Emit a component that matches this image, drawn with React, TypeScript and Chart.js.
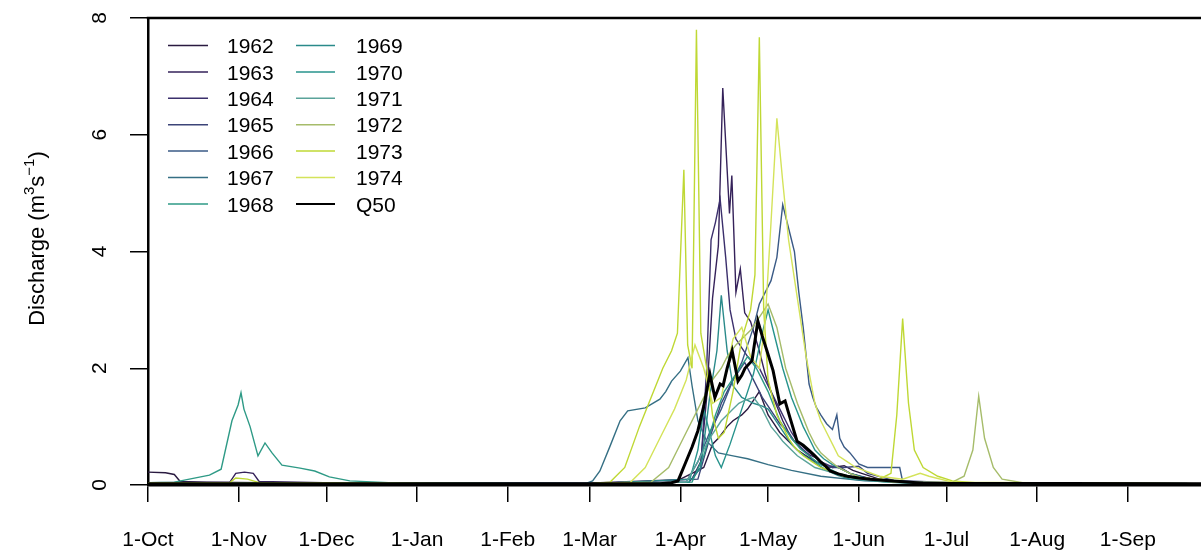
import { useEffect, useRef } from "react";
import { Chart, registerables } from "chart.js";

Chart.register(...registerables);

const FONT = "'Liberation Sans', Arial, Helvetica, sans-serif";

// x: days since 1 October
const MONTH_TICK_DAYS = [0, 31, 61, 92, 123, 151, 182, 212, 243, 273, 304, 335];
const MONTH_TICK_LABELS = ["1-Oct", "1-Nov", "1-Dec", "1-Jan", "1-Feb", "1-Mar", "1-Apr", "1-May", "1-Jun", "1-Jul", "1-Aug", "1-Sep"];
const Y_TICKS = [0, 2, 4, 6, 8];
const X_MAX_VISIBLE = 360;

const YEARS = ["1962", "1963", "1964", "1965", "1966", "1967", "1968", "1969", "1970", "1971", "1972", "1973", "1974"];
const YEAR_COLORS = ["#2a1a40", "#35225a", "#3b2f6c", "#3c4478", "#3a5a86", "#356f84", "#2e9a86", "#2a8a8a", "#27938c", "#5aa39a", "#a6bc6a", "#bfd834", "#d4e35a"];
const Q50_LABEL = "Q50";

// [day, discharge m3/s]
const S1962: [number, number][] = [[0, 0.22], [6, 0.21], [9, 0.18], [11, 0.06], [20, 0.05], [40, 0.04], [80, 0.03], [150, 0.02], [180, 0.05], [190, 0.3], [193, 0.7], [195, 0.8], [198, 1.0], [200, 1.1], [203, 1.2], [205, 1.3], [207, 1.45], [209, 1.6], [210.5, 1.4], [212, 1.2], [214, 1.05], [216, 0.9], [219, 0.75], [222, 0.6], [225, 0.5], [228, 0.4], [231, 0.35], [234, 0.3], [238, 0.33], [241, 0.25], [244, 0.2], [250, 0.1], [260, 0.05], [300, 0.02], [365, 0.02]];
const S1963: [number, number][] = [[0, 0.04], [28, 0.05], [30, 0.2], [33, 0.22], [36, 0.2], [38, 0.06], [60, 0.04], [150, 0.03], [186, 0.1], [189, 0.4], [191, 1.5], [193, 3.2], [195, 4.1], [196.5, 6.8], [198.8, 4.65], [199.6, 5.3], [201, 3.3], [202.5, 3.7], [204, 2.95], [206, 2.8], [209, 2.3], [211, 1.9], [213, 1.6], [215, 1.35], [217, 1.1], [220, 0.8], [222, 0.7], [224, 0.6], [226, 0.52], [229, 0.45], [232, 0.3], [236, 0.32], [240, 0.2], [246, 0.12], [255, 0.05], [300, 0.02], [365, 0.02]];
const S1964: [number, number][] = [[0, 0.03], [150, 0.02], [185, 0.05], [189, 0.3], [191, 2.0], [192.5, 4.2], [194, 4.5], [195.6, 4.9], [197.5, 3.9], [199, 3.0], [201, 2.5], [203, 2.35], [205, 2.2], [207, 2.1], [209, 2.0], [211, 1.8], [213, 1.6], [216, 1.3], [218, 1.1], [220, 0.9], [222, 0.75], [225, 0.6], [228, 0.48], [230, 0.4], [233, 0.33], [236, 0.3], [240, 0.2], [243, 0.15], [250, 0.08], [270, 0.03], [365, 0.02]];
const S1965: [number, number][] = [[0, 0.03], [150, 0.02], [188, 0.1], [192, 0.8], [194, 1.1], [196, 1.4], [198, 1.6], [200, 1.8], [202, 1.95], [204, 2.1], [207, 1.8], [210, 1.5], [212, 1.35], [214, 1.2], [216, 1.05], [219, 0.9], [221, 0.75], [224, 0.6], [227, 0.45], [230, 0.35], [234, 0.3], [238, 0.3], [243, 0.32], [246, 0.2], [255, 0.08], [280, 0.03], [365, 0.02]];
const S1966: [number, number][] = [[0, 0.03], [150, 0.02], [184, 0.05], [188, 0.4], [192, 0.9], [196, 1.3], [200, 1.8], [203, 2.1], [205, 2.4], [207, 2.7], [209, 3.1], [211, 3.3], [213, 3.5], [215, 3.9], [217, 4.8], [219.5, 4.3], [221, 4.0], [222.5, 3.3], [224, 2.7], [226, 1.73], [227.3, 1.5], [228.5, 1.33], [230, 1.2], [232, 1.05], [234, 0.95], [235.5, 1.2], [236.5, 0.8], [238, 0.65], [240, 0.55], [243, 0.36], [246, 0.3], [257, 0.3], [258, 0.06], [270, 0.03], [365, 0.02]];
const S1967: [number, number][] = [[0, 0.04], [150, 0.03], [152, 0.07], [154.5, 0.24], [158, 0.67], [161.4, 1.1], [164, 1.27], [170, 1.32], [172, 1.38], [175, 1.47], [177, 1.6], [179, 1.78], [182, 1.95], [184.6, 2.18], [186, 1.7], [188, 1.1], [191, 0.75], [195, 0.55], [200, 0.5], [205, 0.45], [212, 0.35], [220, 0.25], [230, 0.15], [245, 0.07], [270, 0.03], [365, 0.02]];
const S1968: [number, number][] = [[0, 0.04], [9, 0.05], [21, 0.17], [25, 0.27], [28.7, 1.1], [30.8, 1.37], [31.8, 1.58], [32.8, 1.3], [34.9, 1.0], [37.6, 0.5], [40, 0.72], [42.4, 0.55], [45.8, 0.34], [52, 0.29], [57, 0.24], [62, 0.14], [69, 0.07], [86, 0.03], [150, 0.02], [186, 0.05], [190, 0.5], [194, 1.2], [197, 1.6], [199, 1.75], [201, 1.9], [203, 2.05], [205, 2.2], [208, 2.0], [210, 1.8], [212, 1.6], [214, 1.35], [216, 1.1], [218, 0.95], [220, 0.8], [223, 0.62], [226, 0.5], [229, 0.38], [232, 0.3], [236, 0.2], [240, 0.15], [250, 0.06], [270, 0.03], [365, 0.02]];
const S1969: [number, number][] = [[0, 0.03], [150, 0.02], [186, 0.1], [189, 0.3], [192, 1.5], [194.5, 2.3], [196, 3.25], [198, 2.3], [200, 1.7], [203, 1.5], [205, 1.45], [207, 1.4], [210, 1.35], [212, 1.3], [214, 1.15], [216, 1.0], [218, 0.85], [220, 0.7], [223, 0.55], [226, 0.45], [229, 0.35], [232, 0.25], [236, 0.16], [240, 0.1], [260, 0.03], [365, 0.02]];
const S1970: [number, number][] = [[0, 0.03], [150, 0.02], [185, 0.05], [188, 0.6], [190, 1.3], [192, 0.9], [194, 0.5], [196, 0.3], [199, 0.7], [201, 1.0], [203, 1.3], [205, 1.6], [207, 1.9], [210, 2.6], [212, 3.0], [214, 2.6], [217, 2.0], [220, 1.5], [222, 1.25], [224, 1.0], [226, 0.8], [228, 0.6], [231, 0.45], [234, 0.35], [240, 0.2], [248, 0.08], [265, 0.03], [365, 0.02]];
const S1971: [number, number][] = [[0, 0.03], [150, 0.02], [184, 0.05], [188, 0.4], [192, 0.8], [196, 1.1], [200, 1.3], [202, 1.4], [204, 1.45], [207, 1.5], [210, 1.3], [213, 1.0], [215, 0.88], [217, 0.75], [220, 0.6], [222, 0.5], [225, 0.4], [228, 0.3], [235, 0.2], [242, 0.1], [255, 0.04], [365, 0.02]];
const S1972: [number, number][] = [[0, 0.03], [150, 0.02], [172, 0.05], [178, 0.3], [183, 0.8], [188, 1.3], [193, 1.8], [196, 2.0], [198, 2.2], [201, 2.4], [203, 2.5], [206, 2.65], [208, 2.8], [210, 2.95], [212, 3.1], [215, 2.7], [218, 2.0], [220, 1.7], [222, 1.4], [224, 1.15], [226, 0.9], [228, 0.7], [230, 0.55], [233, 0.42], [236, 0.3], [240, 0.2], [244, 0.12], [255, 0.05], [275, 0.05], [279, 0.15], [282, 0.6], [284, 1.52], [286, 0.8], [289, 0.3], [292, 0.1], [300, 0.03], [365, 0.02]];
const S1973: [number, number][] = [[0, 0.03], [28, 0.04], [30, 0.12], [34, 0.1], [38, 0.04], [150, 0.02], [158, 0.05], [163, 0.3], [168, 1.0], [172, 1.5], [176, 2.0], [179, 2.3], [181, 2.6], [183.2, 5.4], [184.5, 2.4], [186, 2.0], [187.5, 7.8], [189, 2.6], [191, 2.0], [193, 1.2], [195, 0.8], [197, 0.9], [200, 1.6], [203, 2.5], [206, 3.0], [207.5, 3.6], [209, 7.67], [210.5, 3.0], [212, 1.8], [215, 1.2], [217, 1.0], [219, 0.8], [221, 0.65], [224, 0.5], [227, 0.4], [230, 0.3], [238, 0.15], [250, 0.1], [254, 0.2], [256, 1.2], [258, 2.85], [260, 1.4], [262, 0.6], [265, 0.3], [270, 0.15], [275, 0.07], [285, 0.03], [365, 0.02]];
const S1974: [number, number][] = [[0, 0.03], [150, 0.02], [165, 0.05], [170, 0.3], [175, 0.8], [180, 1.3], [184, 1.8], [187, 2.4], [190, 2.0], [193, 1.4], [196, 1.5], [198, 2.0], [200, 2.5], [203, 2.7], [206, 2.2], [209, 2.0], [211, 2.8], [213, 4.5], [215, 6.28], [217, 5.2], [219, 4.2], [222, 3.2], [225, 2.2], [228, 1.4], [230, 1.1], [232, 0.9], [234, 0.7], [236, 0.5], [239, 0.4], [242, 0.3], [250, 0.15], [258, 0.1], [264, 0.2], [267, 0.15], [275, 0.05], [365, 0.02]];
const SQ50: [number, number][] = [[0, 0.02], [175, 0.02], [179, 0.04], [181.2, 0.07], [183.6, 0.36], [186, 0.65], [188, 0.93], [190, 1.35], [192.1, 1.9], [193.8, 1.5], [195.6, 1.73], [196.6, 1.7], [198, 2.0], [199.7, 2.3], [201.7, 1.78], [203, 1.88], [204.1, 2.0], [206.5, 2.13], [208.5, 2.81], [210, 2.55], [211.6, 2.3], [213.7, 1.96], [216, 1.39], [217.8, 1.44], [219.5, 1.15], [221.9, 0.75], [224, 0.68], [226.3, 0.58], [228, 0.5], [229.7, 0.41], [231.5, 0.33], [233.2, 0.24], [236, 0.19], [239, 0.15], [243, 0.12], [246.8, 0.1], [254.7, 0.07], [265, 0.03], [365, 0.02]];

const YEAR_SERIES = [S1962, S1963, S1964, S1965, S1966, S1967, S1968, S1969, S1970, S1971, S1972, S1973, S1974];

const decorPlugin = {
  id: "decor",
  afterDraw(chart: any) {
    const { ctx, chartArea } = chart;
    const ys = chart.scales.y;
    ctx.save();
    // top border of the box
    ctx.strokeStyle = "#000";
    ctx.lineWidth = 2.5;
    ctx.beginPath();
    ctx.moveTo(chartArea.left - 1.25, chartArea.top);
    ctx.lineTo(chartArea.right, chartArea.top);
    ctx.stroke();

    // y tick labels, rotated
    ctx.fillStyle = "#000";
    ctx.font = `21px ${FONT}`;
    ctx.textAlign = "center";
    ctx.textBaseline = "middle";
    for (const v of Y_TICKS) {
      const py = ys.getPixelForValue(v);
      ctx.save();
      ctx.translate(chartArea.left - 48, py);
      ctx.rotate(-Math.PI / 2);
      ctx.fillText(String(v), 0, 0);
      ctx.restore();
    }

    // y title with superscripts
    const parts: [string, boolean][] = [["Discharge (m", false], ["3", true], ["s", false], ["\u22121", true], [")", false]];
    const mainFont = `22px ${FONT}`;
    const supFont = `15px ${FONT}`;
    let total = 0;
    for (const [t, sup] of parts) {
      ctx.font = sup ? supFont : mainFont;
      total += ctx.measureText(t).width;
    }
    const cy = (chartArea.top + chartArea.bottom) / 2 - 13;
    ctx.save();
    ctx.translate(chartArea.left - 104, cy);
    ctx.rotate(-Math.PI / 2);
    ctx.textAlign = "left";
    ctx.textBaseline = "alphabetic";
    let u = -total / 2;
    for (const [t, sup] of parts) {
      ctx.font = sup ? supFont : mainFont;
      ctx.fillText(t, u, sup ? -10 : 0);
      u += ctx.measureText(t).width;
    }
    ctx.restore();

    // legend (two columns, seven rows)
    const labels = [...YEARS, Q50_LABEL];
    const colors = [...YEAR_COLORS, "#000"];
    const cols = [
      { l0: chartArea.left + 20, l1: chartArea.left + 60, tx: chartArea.left + 79 },
      { l0: chartArea.left + 148, l1: chartArea.left + 187, tx: chartArea.left + 208 },
    ];
    ctx.font = `21px ${FONT}`;
    ctx.textAlign = "left";
    ctx.textBaseline = "middle";
    labels.forEach((lab, i) => {
      const c = cols[Math.floor(i / 7)];
      const y = chartArea.top + 28.5 + (i % 7) * 26.4;
      ctx.strokeStyle = colors[i];
      ctx.lineWidth = lab === Q50_LABEL ? 2 : 1.5;
      ctx.beginPath();
      ctx.moveTo(c.l0, y - 1);
      ctx.lineTo(c.l1, y - 1);
      ctx.stroke();
      ctx.fillStyle = "#000";
      ctx.fillText(lab, c.tx, y + 1);
    });
    ctx.restore();
  },
};

export default function App() {
  const ref = useRef<HTMLCanvasElement | null>(null);
  useEffect(() => {
    if (!ref.current) return;
    const datasets: any[] = YEAR_SERIES.map((s, i) => ({
      label: YEARS[i],
      data: s.map(([x, y]) => ({ x, y })),
      borderColor: YEAR_COLORS[i],
      borderWidth: 1.4,
      pointRadius: 0,
      tension: 0,
      fill: false,
      order: YEARS.length - i,
    }));
    datasets.push({
      label: Q50_LABEL,
      data: SQ50.map(([x, y]) => ({ x, y })),
      borderColor: "#000",
      borderWidth: 3,
      pointRadius: 0,
      tension: 0,
      fill: false,
      order: 0,
    });
    const chart = new Chart(ref.current, {
      type: "line",
      data: { datasets },
      options: {
        responsive: false,
        animation: false,
        devicePixelRatio: 1,
        layout: { padding: { top: 18, right: 0, left: 0, bottom: 0 } },
        plugins: { legend: { display: false }, tooltip: { enabled: false } },
        scales: {
          x: {
            type: "linear",
            min: 0,
            max: X_MAX_VISIBLE,
            afterBuildTicks: (s: any) => {
              s.ticks = MONTH_TICK_DAYS.map((v) => ({ value: v }));
            },
            afterFit: (s: any) => {
              s.height = 65;
            },
            ticks: {
              autoSkip: false,
              maxRotation: 0,
              minRotation: 0,
              padding: 26,
              color: "#000",
              font: { family: FONT, size: 21 },
              callback: (v: any) => {
                const i = MONTH_TICK_DAYS.indexOf(Number(v));
                return i >= 0 ? MONTH_TICK_LABELS[i] : "";
              },
            },
            grid: { drawOnChartArea: false, drawTicks: true, tickLength: 17, color: "#000", lineWidth: 1.5 },
            border: { display: true, color: "#000", width: 2.5 },
          },
          y: {
            type: "linear",
            min: 0,
            max: 8,
            afterBuildTicks: (s: any) => {
              s.ticks = Y_TICKS.map((v) => ({ value: v }));
            },
            afterFit: (s: any) => {
              s.width = 148;
            },
            ticks: { display: false },
            grid: { drawOnChartArea: false, drawTicks: true, tickLength: 18, color: "#000", lineWidth: 1.5 },
            border: { display: true, color: "#000", width: 2.5 },
          },
        },
      },
      plugins: [decorPlugin],
    });
    return () => chart.destroy();
  }, []);
  return (
    <div style={{ position: "fixed", left: 0, top: 0, width: 1201, height: 550, background: "#fff", overflow: "hidden" }}>
      <canvas ref={ref} width={1201} height={550} style={{ display: "block" }} />
    </div>
  );
}
